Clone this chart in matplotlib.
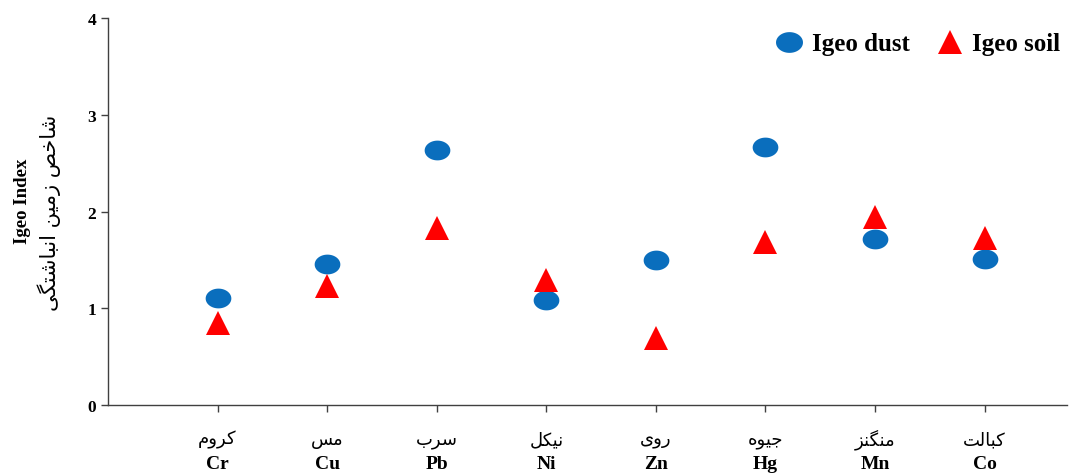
#!/usr/bin/env python3
import numpy as np
import matplotlib
matplotlib.use('Agg')
import matplotlib.pyplot as plt
from matplotlib.path import Path

# data
symbols = ['Cr', 'Cu', 'Pb', 'Ni', 'Zn', 'Hg', 'Mn', 'Co']
names_fa = ['کروم', 'مس', 'سرب', 'نیکل', 'روی', 'جیوه', 'منگنز', 'کبالت']
igeo_dust = [1.11, 1.46, 2.64, 1.08, 1.50, 2.67, 1.72, 1.51]
igeo_soil = [0.85, 1.23, 1.83, 1.29, 0.69, 1.68, 1.94, 1.73]
ylabel_en = 'Igeo Index'
ylabel_fa = 'شاخص زمین انباشتگی'

# minimal Persian shaping (matplotlib has no bidi / joining)
FORMS = {  # iso, fin, ini, med
    'ا': ('\uFE8D', '\uFE8E', None, None),
    'ب': ('\uFE8F', '\uFE90', '\uFE91', '\uFE92'),
    'ت': ('\uFE95', '\uFE96', '\uFE97', '\uFE98'),
    'ج': ('\uFE9D', '\uFE9E', '\uFE9F', '\uFEA0'),
    'خ': ('\uFEA5', '\uFEA6', '\uFEA7', '\uFEA8'),
    'ر': ('\uFEAD', '\uFEAE', None, None),
    'ز': ('\uFEAF', '\uFEB0', None, None),
    'س': ('\uFEB1', '\uFEB2', '\uFEB3', '\uFEB4'),
    'ش': ('\uFEB5', '\uFEB6', '\uFEB7', '\uFEB8'),
    'ص': ('\uFEB9', '\uFEBA', '\uFEBB', '\uFEBC'),
    'ل': ('\uFEDD', '\uFEDE', '\uFEDF', '\uFEE0'),
    'م': ('\uFEE1', '\uFEE2', '\uFEE3', '\uFEE4'),
    'ن': ('\uFEE5', '\uFEE6', '\uFEE7', '\uFEE8'),
    'ه': ('\uFEE9', '\uFEEA', '\uFEEB', '\uFEEC'),
    'و': ('\uFEED', '\uFEEE', None, None),
    'ک': ('\uFB8E', '\uFB8F', '\uFB90', '\uFB91'),
    'گ': ('\uFB92', '\uFB93', '\uFB94', '\uFB95'),
    'ی': ('\uFBFC', '\uFBFD', '\uFBFE', '\uFBFF'),
}


def dual(c):
    return c in FORMS and FORMS[c][2] is not None


def shape(s):
    out = []
    for i, c in enumerate(s):
        if c not in FORMS:
            out.append(c)
            continue
        prev = i > 0 and dual(s[i - 1])
        nxt = dual(c) and i + 1 < len(s) and s[i + 1] in FORMS
        iso, fin, ini, med = FORMS[c]
        if prev and nxt:
            out.append(med)
        elif prev:
            out.append(fin)
        elif nxt:
            out.append(ini)
        else:
            out.append(iso)
    return ''.join(reversed(out))


serif = 'Liberation Serif'
fa_font = 'DejaVu Sans'
blue = '#0A6EBD'
red = '#FF0000'

t = np.linspace(0, 2 * np.pi, 60)
ellipse = Path(np.column_stack([1.3 * np.cos(t), np.sin(t)]), closed=True)

fig = plt.figure(figsize=(10.69, 4.77), dpi=100)
ax = fig.add_axes([0.101, 0.149, 0.897, 0.811])

x = np.arange(len(symbols))
ax.plot(x, igeo_dust, linestyle='none', marker=ellipse, markersize=18.5,
        color=blue, markeredgewidth=0, label='Igeo dust')
ax.plot(x, igeo_soil, linestyle='none', marker='^', markersize=17,
        color=red, markeredgewidth=0, label='Igeo soil')

ax.set_xlim(-1.0, 7.75)
ax.set_ylim(0, 4)
ax.set_yticks([0, 1, 2, 3, 4])
ax.set_xticks(x)
ax.set_xticklabels([''] * len(x))
for sp in ['top', 'right']:
    ax.spines[sp].set_visible(False)
for sp in ['left', 'bottom']:
    ax.spines[sp].set_color('#404040')
    ax.spines[sp].set_linewidth(1.0)
ax.tick_params(direction='out', length=5, color='#404040', width=1)
for lab in ax.get_yticklabels():
    lab.set_fontfamily(serif)
    lab.set_fontweight('bold')
    lab.set_fontsize(12.5)

for i in x:
    ax.annotate(shape(names_fa[i]), xy=(i, 0), xycoords=('data', 'axes fraction'),
                xytext=(0, -24.5), textcoords='offset points', ha='center',
                va='center', fontsize=13, family=fa_font)
    ax.annotate(symbols[i], xy=(i, 0), xycoords=('data', 'axes fraction'),
                xytext=(0, -42.5), textcoords='offset points', ha='center',
                va='center', fontsize=14, family=serif, fontweight='bold')

fig.text(0.0215, 0.578, ylabel_en, rotation=90, ha='center', va='center',
         fontsize=13.5, family=serif, fontweight='bold')
fig.text(0.046, 0.553, shape(ylabel_fa), rotation=90, ha='center', va='center',
         fontsize=15, family=fa_font)

ax.legend(loc='upper right', bbox_to_anchor=(0.992, 0.93),
          bbox_transform=fig.transFigure, ncol=2, frameon=False,
          prop={'family': serif, 'weight': 'bold', 'size': 18},
          handletextpad=0.15, columnspacing=0.85, handlelength=1.5,
          borderpad=0, borderaxespad=0, markerscale=1.05)

plt.savefig('out.png', dpi=100)
